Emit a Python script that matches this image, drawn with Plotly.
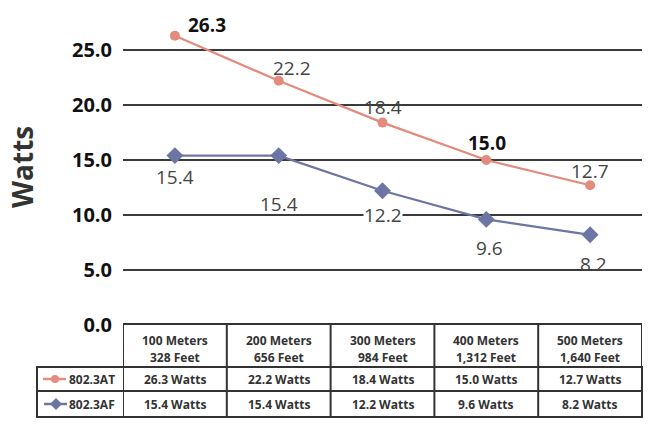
import plotly.graph_objects as go

W, H = 653, 424

# data
distances_m = [100, 200, 300, 400, 500]
distances_ft = [328, 656, 984, 1312, 1640]
at_watts = [26.3, 22.2, 18.4, 15.0, 12.7]
af_watts = [15.4, 15.4, 12.2, 9.6, 8.2]
series_names = ["802.3AT", "802.3AF"]
y_ticks = [0, 5, 10, 15, 20, 25]

categories = [f"{m} Meters" for m in distances_m]

AT_COLOR = "#E38B7C"
AF_COLOR = "#6D75A4"
GRID = "#3a3a3a"
FONT = "Open Sans"

# label placement (pixel shifts from each point) and styling
at_shift = [(32, 11), (13, 13), (0, 16), (1, 17), (0, 14)]
af_shift = [(0, -21), (0, -48), (0, -24), (3, -29), (3, -29)]
at_dark = [True, False, False, True, False]
label_bg = {("af", 2): True}


def px(x):
    return x / W


def py(y):
    return 1 - y / H


fig = go.Figure()

fig.add_trace(go.Scatter(
    x=categories, y=at_watts, mode="lines+markers", name=series_names[0],
    line=dict(color=AT_COLOR, width=2.2),
    marker=dict(symbol="circle", size=10, color=AT_COLOR),
))
fig.add_trace(go.Scatter(
    x=categories, y=af_watts, mode="lines+markers", name=series_names[1],
    line=dict(color=AF_COLOR, width=2.2),
    marker=dict(symbol="diamond", size=13, color=AF_COLOR),
))

annotations = []

# point labels
for i, v in enumerate(at_watts):
    dx, dy = at_shift[i]
    dark = at_dark[i]
    annotations.append(dict(
        x=i, y=v, xref="x", yref="y", xshift=dx, yshift=dy, showarrow=False,
        xanchor="center", yanchor="middle",
        text=(f"<b>{v:.1f}</b>" if dark else f"{v:.1f}"),
        font=dict(family=FONT, size=19, color="#111" if dark else "#454545"),
        bgcolor="white" if label_bg.get(("at", i)) else None,
        borderpad=0,
    ))
for i, v in enumerate(af_watts):
    dx, dy = af_shift[i]
    annotations.append(dict(
        x=i, y=v, xref="x", yref="y", xshift=dx, yshift=dy, showarrow=False,
        xanchor="center", yanchor="middle",
        text=f"{v:.1f}",
        font=dict(family=FONT, size=19, color="#454545"),
        bgcolor="white" if label_bg.get(("af", i)) else None,
        borderpad=0,
    ))

# axis title
annotations.append(dict(
    x=px(22), y=py(167), xref="paper", yref="paper", showarrow=False,
    xanchor="center", yanchor="middle",
    text="<b>Watts</b>", textangle=-90,
    font=dict(family=FONT, size=28, color="#333"),
))

# data table text
TBL = dict(family=FONT, size=12, color="#333")


def cell(x, y, text, xref="x", xanchor="center"):
    return dict(x=x, y=py(y), xref=xref, yref="paper", showarrow=False,
                xanchor=xanchor, yanchor="middle", text=f"<b>{text}</b>", font=TBL)


for i, (m, ft) in enumerate(zip(distances_m, distances_ft)):
    annotations.append(cell(i, 340, f"{m} Meters"))
    annotations.append(cell(i, 357, f"{ft:,} Feet"))
    annotations.append(cell(i, 379, f"{at_watts[i]:.1f} Watts"))
    annotations.append(cell(i, 404, f"{af_watts[i]:.1f} Watts"))

for name, yc in zip(series_names, [379, 404]):
    annotations.append(cell(px(67), yc, name, xref="paper", xanchor="left"))

# table borders
LINE = dict(color="#333", width=2)
shapes = []
shapes.append(dict(type="rect", xref="x", yref="paper", x0=-0.5, x1=4.5,
                   y0=py(324), y1=py(367), line=LINE))
shapes.append(dict(type="rect", xref="paper", yref="paper", x0=px(37), x1=px(642),
                   y0=py(367), y1=py(417), line=LINE))
shapes.append(dict(type="line", xref="paper", yref="paper", x0=px(37), x1=px(642),
                   y0=py(391), y1=py(391), line=LINE))
for k in range(len(categories)):
    shapes.append(dict(type="line", xref="x", yref="paper", x0=k - 0.5, x1=k - 0.5,
                       y0=py(324), y1=py(417), line=LINE))

# legend keys inside table
shapes.append(dict(type="line", xref="paper", yref="paper", x0=px(43), x1=px(66),
                   y0=py(379), y1=py(379), line=dict(color=AT_COLOR, width=2.5)))
shapes.append(dict(type="circle", xref="paper", yref="paper", x0=px(51), x1=px(59),
                   y0=py(383), y1=py(375), fillcolor=AT_COLOR, line=dict(width=0)))
shapes.append(dict(type="line", xref="paper", yref="paper", x0=px(44), x1=px(67),
                   y0=py(404), y1=py(404), line=dict(color=AF_COLOR, width=2.5)))
shapes.append(dict(type="path", xref="paper", yref="paper",
                   path=(f"M {px(56)} {py(398)} L {px(62)} {py(404)} "
                         f"L {px(56)} {py(410)} L {px(50)} {py(404)} Z"),
                   fillcolor=AF_COLOR, line=dict(width=0)))

fig.update_layout(
    width=W, height=H,
    margin=dict(l=0, r=0, t=0, b=0, autoexpand=False),
    paper_bgcolor="white", plot_bgcolor="white",
    showlegend=False,
    xaxis=dict(domain=[px(123), px(642)], range=[-0.5, 4.5], showticklabels=False,
               showgrid=False, zeroline=False, showline=False, fixedrange=True,
               automargin=False),
    yaxis=dict(domain=[py(325), 1], range=[0, 325 / 11], tickvals=y_ticks,
               ticktext=[f"{t:.1f}" for t in y_ticks],
               tickfont=dict(family=FONT, size=20, color="#111", weight="bold"),
               showgrid=True, gridcolor=GRID, gridwidth=2, zeroline=False,
               showline=False, ticks="", ticklabelstandoff=10, automargin=False),
    annotations=annotations,
    shapes=shapes,
)

# drop the default page margin so the figure fills the window
fig.write_html("out.html", config={"displayModeBar": False},
               post_script="document.body.style.margin='0';")
